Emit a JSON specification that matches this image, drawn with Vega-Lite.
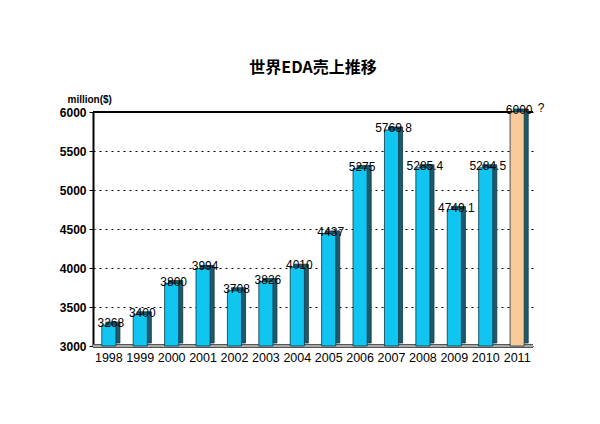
{
  "$schema": "https://vega.github.io/schema/vega-lite/v6.json",
  "autosize": "none",
  "width": 440,
  "height": 234,
  "padding": {"left": 93, "top": 112, "right": 67, "bottom": 78},
  "background": "white",
  "config": {"view": {"stroke": null}, "font": "Liberation Sans"},
  "title": {"text": "世界EDA売上推移", "fontSize": 16, "fontWeight": "bold", "color": "black", "offset": 18, "font": "Noto Sans CJK JP"},
  "data": {"values": [
    {"year": "1998", "sales": 3268, "label": "3268", "kind": "actual", "note": ""},
    {"year": "1999", "sales": 3400, "label": "3400", "kind": "actual", "note": ""},
    {"year": "2000", "sales": 3800, "label": "3800", "kind": "actual", "note": ""},
    {"year": "2001", "sales": 3994, "label": "3994", "kind": "actual", "note": ""},
    {"year": "2002", "sales": 3708, "label": "3708", "kind": "actual", "note": ""},
    {"year": "2003", "sales": 3826, "label": "3826", "kind": "actual", "note": ""},
    {"year": "2004", "sales": 4010, "label": "4010", "kind": "actual", "note": ""},
    {"year": "2005", "sales": 4437, "label": "4437", "kind": "actual", "note": ""},
    {"year": "2006", "sales": 5275, "label": "5275", "kind": "actual", "note": ""},
    {"year": "2007", "sales": 5769.8, "label": "5769.8", "kind": "actual", "note": ""},
    {"year": "2008", "sales": 5285.4, "label": "5285.4", "kind": "actual", "note": ""},
    {"year": "2009", "sales": 4749.1, "label": "4749.1", "kind": "actual", "note": ""},
    {"year": "2010", "sales": 5284.5, "label": "5284.5", "kind": "actual", "note": ""},
    {"year": "2011", "sales": 6000, "label": "6000", "kind": "forecast", "note": "?"}
  ]},
  "encoding": {
    "x": {"field": "year", "type": "ordinal", "scale": {"paddingInner": 0.55, "paddingOuter": 0.28},
      "axis": {"title": null, "labelAngle": 0, "ticks": false, "domain": false, "labelFontSize": 12.5, "labelColor": "black", "labelPadding": 5, "labelFont": "Liberation Sans"}},
    "y": {"field": "sales", "type": "quantitative", "scale": {"domain": [3000, 6000], "nice": false},
      "axis": {"title": "million($)", "titleAngle": 0, "titleX": -26, "titleY": -8, "titleAlign": "left", "titleFontSize": 10, "titleFontWeight": "bold", "titleColor": "black",
        "values": [3000, 3500, 4000, 4500, 5000, 5500, 6000], "format": "d", "labelFontSize": 12, "labelFontWeight": "bold", "labelColor": "black", "labelPadding": 3,
        "tickSize": 4, "tickColor": "black", "domainColor": "black", "domainWidth": 2,
        "grid": true, "gridColor": "black", "gridDash": [2, 4], "gridWidth": 1}}
  },
  "layer": [
    {"mark": {"type": "rule", "color": "black", "strokeWidth": 1.5}, "encoding": {"y": {"datum": 6000}, "x": {"value": 0}, "x2": {"value": 440}}},
    {"mark": {"type": "rule", "color": "#555", "strokeWidth": 4}, "encoding": {"y": {"datum": 3000}, "x": {"value": 0}, "x2": {"value": 440}}},
    {"mark": {"type": "rule", "color": "#aaa", "strokeWidth": 2}, "encoding": {"y": {"datum": 3000}, "x": {"value": 0}, "x2": {"value": 440}}},
    {"mark": {"type": "bar", "color": "#1c5b6c", "stroke": "#0e3340", "strokeWidth": 0.8, "xOffset": 4, "yOffset": -3, "y2Offset": -3}, "encoding": {"y2": {"datum": 3000}}},
    {"mark": {"type": "bar", "stroke": "#0e3340", "strokeWidth": 0.8},
      "encoding": {"y2": {"datum": 3000}, "color": {"field": "kind", "type": "nominal", "scale": {"domain": ["actual", "forecast"], "range": ["#10c6f0", "#f9c99a"]}, "legend": null}}},
    {"mark": {"type": "text", "fontSize": 12, "color": "black", "baseline": "middle", "dy": -2, "dx": 2, "font": "Liberation Sans"}, "encoding": {"text": {"field": "label"}}},
    {"mark": {"type": "text", "fontSize": 12, "color": "black", "baseline": "middle", "dx": 24, "dy": -4, "font": "Liberation Sans"}, "encoding": {"text": {"field": "note"}}}
  ]
}
